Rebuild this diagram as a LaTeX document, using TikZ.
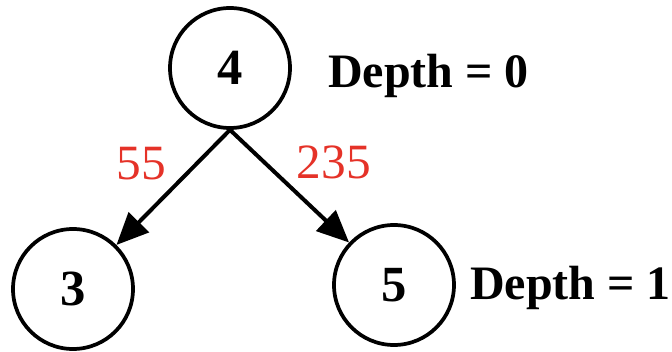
\documentclass[tikz,border=0pt]{standalone}
\usepackage{fontspec}
\setmainfont{Liberation Serif}
\usetikzlibrary{arrows.meta}
\definecolor{weightred}{RGB}{229,50,40}

\begin{document}
\begin{tikzpicture}[x=0.75pt, y=-0.75pt,
        main/.style = {draw, circle, line width=2.8pt, minimum size=90pt, inner sep=0pt, font=\fontsize{38}{40}\selectfont\bfseries},
        depthlabel/.style = {anchor=base west, inner sep=0pt, font=\fontsize{36}{40}\selectfont\bfseries},
        weight/.style = {text=weightred, inner sep=4pt, font=\fontsize{37}{40}\selectfont}]
            \useasboundingbox (0,0) rectangle (672,352);
            \node[main] (N4) at (230,68) {4};
            \node[main] (N3) at (73,289) {3};
            \node[main] (N5) at (394,285) {5};

            \node[depthlabel] (D0) at (328,88) {Depth = 0};
            \node[depthlabel] (D1) at (470,300) {Depth = 1};

            \path[-{Triangle[length=24pt,width=21pt]}, line width=3pt] (N4.south) edge node[weight, above left] {55} (N3);
            \path[-{Triangle[length=24pt,width=21pt]}, line width=3pt] (N4.south) edge node[weight, above right] {235} (N5);
        \end{tikzpicture}
\end{document}
